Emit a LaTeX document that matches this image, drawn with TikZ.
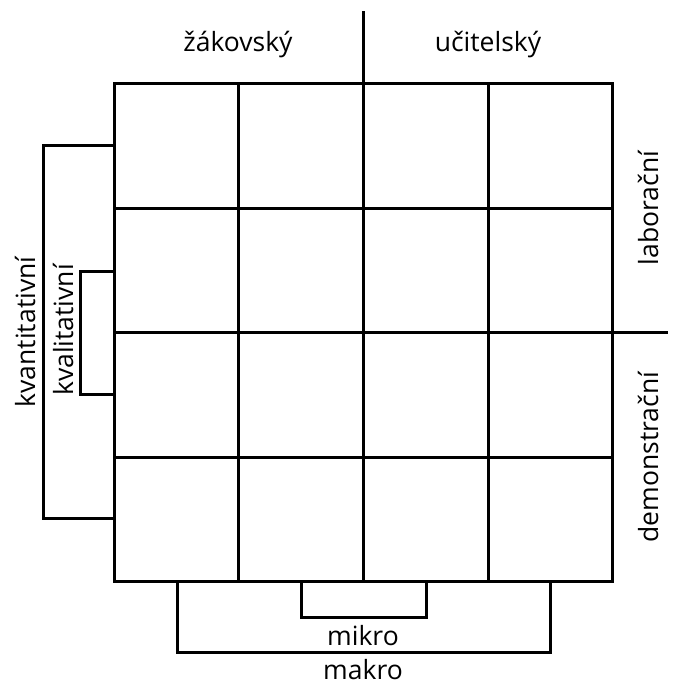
\documentclass[tikz,border=0pt]{standalone}
\usepackage{fontspec}
\setmainfont{Open Sans}
\begin{document}
\begin{tikzpicture}[x=1pt,y=-1pt,
  ln/.style={line width=3pt,line cap=rect},
  lbl/.style={font=\fontsize{26.5}{30}\selectfont,inner sep=0pt,text=black}]
\useasboundingbox (0,0) rectangle (673,685);
% grid
\foreach \x in {114,238,363,488,612} \draw[ln] (\x,83) -- (\x,581);
\foreach \y in {83,208,332,457,581} \draw[ln] (114,\y) -- (612,\y);
% dividers
\coordinate (vtop) at (363,13);
\coordinate (vbot) at (363,83);
\draw[ln] (vtop) -- (vbot);
\coordinate (hl) at (612,332);
\coordinate (hr) at (666,332);
\draw[ln] (hl) -- (hr);
% brackets
\draw[ln,line cap=butt] (114,145) -- (43,145) -- (43,518) -- (114,518);
\draw[ln,line cap=butt] (114,271) -- (80,271) -- (80,394) -- (114,394);
\draw[ln,line cap=butt] (177,581) -- (177,652) -- (550,652) -- (550,581);
\draw[ln,line cap=butt] (301,581) -- (301,617) -- (426,617) -- (426,581);
% labels
\node[lbl] (zak) at (238,45) {žákovský};
\node[lbl] (uci) at (488,45) {učitelský};
\node[lbl] (mikro) at (363,636) {mikro};
\node[lbl] (makro) at (363,670) {makro};
\node[lbl,rotate=90] (kvan) at (25,332) {kvantitativní};
\node[lbl,rotate=90] (kval) at (63,330) {kvalitativní};
\node[lbl,rotate=90] (lab) at (648,208) {laborační};
\node[lbl,rotate=90] (dem) at (648,457) {demonstrační};
\end{tikzpicture}
\end{document}
